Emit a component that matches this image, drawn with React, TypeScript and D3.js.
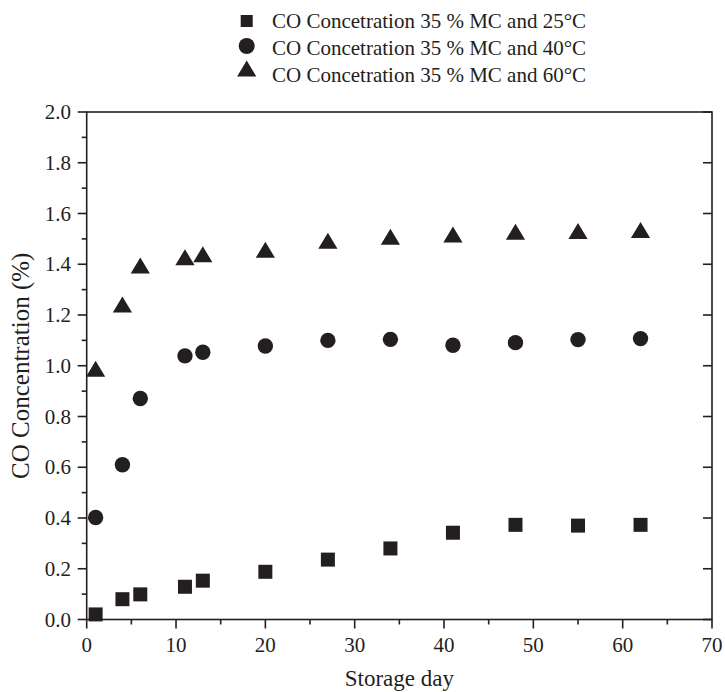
import React from "react";
import * as d3 from "d3";

const days = [1, 4, 6, 11, 13, 20, 27, 34, 41, 48, 55, 62];
const co25 = [0.02, 0.08, 0.099, 0.129, 0.153, 0.188, 0.236, 0.28, 0.342, 0.373, 0.37, 0.373];
const co40 = [0.402, 0.61, 0.871, 1.039, 1.053, 1.078, 1.1, 1.104, 1.081, 1.091, 1.103, 1.107];
const co60 = [0.988, 1.241, 1.395, 1.428, 1.439, 1.457, 1.493, 1.508, 1.517, 1.528, 1.531, 1.535];
const seriesNames = [
  "CO Concetration 35 % MC and 25°C",
  "CO Concetration 35 % MC and 40°C",
  "CO Concetration 35 % MC and 60°C",
];
const xTicks = [0, 10, 20, 30, 40, 50, 60, 70];
const yTicks = [0, 0.2, 0.4, 0.6, 0.8, 1.0, 1.2, 1.4, 1.6, 1.8, 2.0];
const xTitle = "Storage day";
const yTitle = "CO Concentration (%)";

const W = 725, H = 692;
const L = 86.7, R = 712, T = 112, B = 619.5;
const INK = "#231f20";
const FONT = "'Liberation Serif', 'Times New Roman', serif";

function marker(kind: string, cx: number, cy: number, s: number) {
  if (kind === "square") {
    return <rect x={cx - s / 2} y={cy - s / 2} width={s} height={s} fill={INK} />;
  }
  if (kind === "circle") {
    return <circle cx={cx} cy={cy} r={s / 2} fill={INK} />;
  }
  const w = s * 1.2, h = s;
  return (
    <path
      d={`M${cx},${cy - h / 2}L${cx + w / 2},${cy + h / 2}L${cx - w / 2},${cy + h / 2}Z`}
      fill={INK}
    />
  );
}

export default function App() {
  const x = d3.scaleLinear().domain([0, 70]).range([L, R]);
  const y = d3.scaleLinear().domain([0, 2]).range([B, T]);
  const series = [
    { kind: "square", vals: co25, size: 14, lsize: 12 },
    { kind: "circle", vals: co40, size: 15.4, lsize: 16 },
    { kind: "triangle", vals: co60, size: 16, lsize: 16 },
  ];
  const xMinor = d3.range(5, 70, 10);
  const yMinor = d3.range(0.1, 2.0, 0.2);

  return (
    <svg
      width={W}
      height={H}
      style={{ position: "absolute", left: 0, top: 0, background: "#fff" }}
      fontFamily={FONT}
    >
      {/* frame */}
      <rect x={L} y={T} width={R - L} height={B - T} fill="none" stroke={INK} strokeWidth={1.6} />
      {/* x ticks */}
      {xTicks.map((t) => (
        <g key={"xt" + t}>
          <line x1={x(t)} x2={x(t)} y1={B} y2={B + 9} stroke={INK} strokeWidth={1.6} />
          <text x={x(t)} y={652} textAnchor="middle" fontSize={21} fill={INK}>
            {t}
          </text>
        </g>
      ))}
      {xMinor.map((t) => (
        <line key={"xm" + t} x1={x(t)} x2={x(t)} y1={B} y2={B + 5} stroke={INK} strokeWidth={1.6} />
      ))}
      {/* y ticks */}
      {yTicks.map((t) => (
        <g key={"yt" + t}>
          <line x1={L - 9} x2={L} y1={y(t)} y2={y(t)} stroke={INK} strokeWidth={1.6} />
          <line x1={R - 9} x2={R} y1={y(t)} y2={y(t)} stroke={INK} strokeWidth={1.6} />
          <text x={71} y={y(t) + 7} textAnchor="end" fontSize={21} fill={INK}>
            {t.toFixed(1)}
          </text>
        </g>
      ))}
      {yMinor.map((t) => (
        <line key={"ym" + t} x1={L - 5} x2={L} y1={y(t)} y2={y(t)} stroke={INK} strokeWidth={1.6} />
      ))}
      {/* axis titles */}
      <text x={(L + R) / 2} y={686} textAnchor="middle" fontSize={23} fill={INK}>
        {xTitle}
      </text>
      <text
        transform={`translate(29,${(T + B) / 2}) rotate(-90)`}
        textAnchor="middle"
        fontSize={25}
        fill={INK}
      >
        {yTitle}
      </text>
      {/* data */}
      {series.map((s, si) => (
        <g key={"s" + si}>
          {s.vals.map((v, i) => (
            <g key={i}>{marker(s.kind, x(days[i]), y(v), s.size)}</g>
          ))}
        </g>
      ))}
      {/* legend */}
      {series.map((s, si) => {
        const cy = [21, 46, 68.5][si];
        const by = [28.3, 55, 81.7][si];
        return (
          <g key={"lg" + si}>
            {marker(s.kind, 246.7, cy, s.lsize)}
            <text x={272} y={by} fontSize={21} fill={INK}>
              {seriesNames[si]}
            </text>
          </g>
        );
      })}
    </svg>
  );
}
